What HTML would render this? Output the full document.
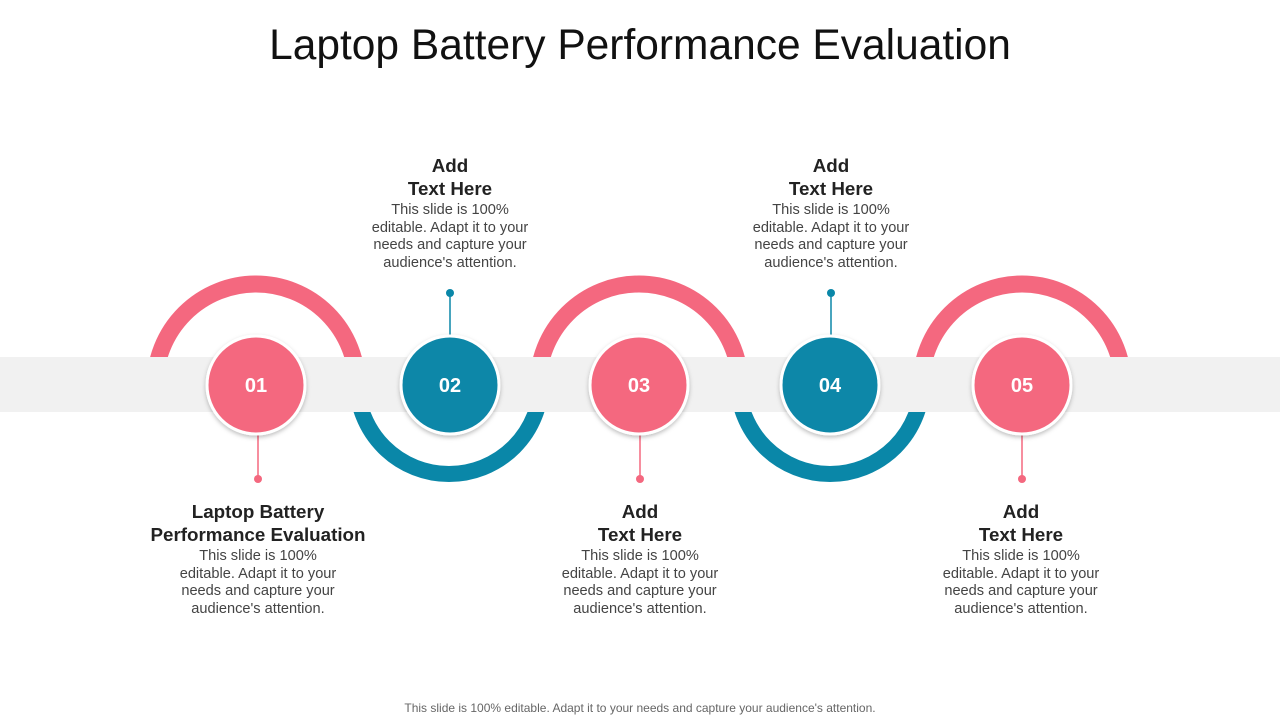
<!DOCTYPE html>
<html><head><meta charset="utf-8"><style>
body{margin:0;width:1280px;height:720px;background:#fff;font-family:"Liberation Sans",sans-serif;position:relative;overflow:hidden}
.abs{position:absolute}
h1{position:absolute;top:22px;left:0;width:1280px;text-align:center;margin:0;font-weight:normal;font-size:42.5px;color:#111}
.tb{position:absolute;width:240px;text-align:center;color:#333}
.tb .h{font-weight:bold;font-size:18.8px;line-height:23px;color:#222}
.tb .b{font-size:14.6px;line-height:17.7px;color:#444;margin-top:2px}
.foot{position:absolute;top:701px;width:1280px;text-align:center;font-size:12px;color:#666}
</style></head><body>
<h1>Laptop Battery Performance Evaluation</h1>
<svg class="abs" style="left:0;top:0" width="1280" height="720">
<defs><filter id="sh" x="-30%" y="-30%" width="160%" height="160%"><feDropShadow dx="0" dy="2" stdDeviation="2" flood-opacity="0.25"/></filter>
<clipPath id="top"><rect x="0" y="0" width="1280" height="357"/></clipPath>
<clipPath id="bot"><rect x="0" y="412" width="1280" height="308"/></clipPath></defs>
<g clip-path="url(#top)" fill="none" stroke="#F4687F" stroke-width="17">
<circle cx="256" cy="385" r="101"/>
<circle cx="639" cy="385" r="101"/>
<circle cx="1022" cy="385" r="101"/>
</g>
<g clip-path="url(#bot)" fill="none" stroke="#0A87A8" stroke-width="16">
<circle cx="449" cy="382" r="92"/>
<circle cx="830" cy="382" r="92"/>
</g>
<rect x="0" y="357" width="1280" height="55" fill="#F1F1F1"/>
<line x1="258" y1="430" x2="258" y2="479" stroke="#F4687F" stroke-width="1.5"/><circle cx="258" cy="479" r="4" fill="#F4687F"/>
<line x1="640" y1="430" x2="640" y2="479" stroke="#F4687F" stroke-width="1.5"/><circle cx="640" cy="479" r="4" fill="#F4687F"/>
<line x1="1022" y1="430" x2="1022" y2="479" stroke="#F4687F" stroke-width="1.5"/><circle cx="1022" cy="479" r="4" fill="#F4687F"/>
<line x1="450" y1="293" x2="450" y2="340" stroke="#0A87A8" stroke-width="1.5"/><circle cx="450" cy="293" r="4" fill="#0A87A8"/>
<line x1="831" y1="293" x2="831" y2="340" stroke="#0A87A8" stroke-width="1.5"/><circle cx="831" cy="293" r="4" fill="#0A87A8"/>
<g font-family="Liberation Sans" font-weight="bold" font-size="20" fill="#fff" text-anchor="middle">
<g><circle cx="256" cy="385" r="49" fill="#F4687F" stroke="#fff" stroke-width="3" filter="url(#sh)"/><text x="256" y="392">01</text></g>
<g><circle cx="450" cy="385" r="49" fill="#0A87A8" stroke="#fff" stroke-width="3" filter="url(#sh)"/><text x="450" y="392">02</text></g>
<g><circle cx="639" cy="385" r="49" fill="#F4687F" stroke="#fff" stroke-width="3" filter="url(#sh)"/><text x="639" y="392">03</text></g>
<g><circle cx="830" cy="385" r="49" fill="#0A87A8" stroke="#fff" stroke-width="3" filter="url(#sh)"/><text x="830" y="392">04</text></g>
<g><circle cx="1022" cy="385" r="49" fill="#F4687F" stroke="#fff" stroke-width="3" filter="url(#sh)"/><text x="1022" y="392">05</text></g>
</g></svg>
<div class="tb" style="left:330px;top:154px"><div class="h">Add<br>Text Here</div><div class="b">This slide is 100%<br>editable. Adapt it to your<br>needs and capture your<br>audience's attention.</div></div>
<div class="tb" style="left:711px;top:154px"><div class="h">Add<br>Text Here</div><div class="b">This slide is 100%<br>editable. Adapt it to your<br>needs and capture your<br>audience's attention.</div></div>
<div class="tb" style="left:128px;top:500px;width:260px"><div class="h">Laptop Battery<br>Performance Evaluation</div><div class="b">This slide is 100%<br>editable. Adapt it to your<br>needs and capture your<br>audience's attention.</div></div>
<div class="tb" style="left:520px;top:500px"><div class="h">Add<br>Text Here</div><div class="b">This slide is 100%<br>editable. Adapt it to your<br>needs and capture your<br>audience's attention.</div></div>
<div class="tb" style="left:901px;top:500px"><div class="h">Add<br>Text Here</div><div class="b">This slide is 100%<br>editable. Adapt it to your<br>needs and capture your<br>audience's attention.</div></div>
<div class="foot">This slide is 100% editable. Adapt it to your needs and capture your audience's attention.</div>
</body></html>
